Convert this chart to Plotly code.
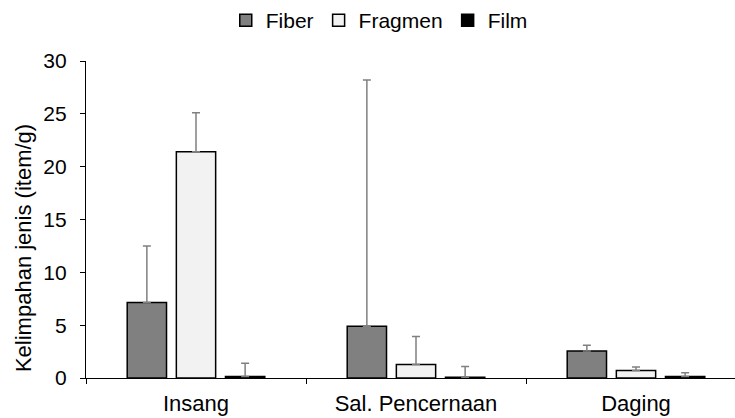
import plotly.graph_objects as go

categories = ["Insang", "Sal. Pencernaan", "Daging"]
series_names = ["Fiber", "Fragmen", "Film"]
fiber = [7.15, 4.9, 2.55]
fiber_err = [5.35, 23.3, 0.55]
fragmen = [21.4, 1.28, 0.72]
fragmen_err = [3.7, 2.65, 0.33]
film = [0.15, 0.06, 0.15]
film_err = [1.25, 1.04, 0.35]
tick_vals = [0, 5, 10, 15, 20, 25, 30]
y_title = "Kelimpahan jenis (item/g)"

fills = ["#808080", "#f2f2f2", "#000000"]
values = [fiber, fragmen, film]
errors = [fiber_err, fragmen_err, film_err]

fig = go.Figure()
for name, v, e, c in zip(series_names, values, errors, fills):
    fig.add_trace(go.Bar(
        x=categories, y=v, name=name,
        marker=dict(color=c, line=dict(color="#000000", width=1.5)),
        error_y=dict(type="data", array=e, symmetric=False, arrayminus=[0]*len(e),
                     color="#808080", thickness=1.5, width=4),
    ))

font = "Liberation Sans, Arial, sans-serif"
fig.update_layout(
    width=735, height=418,
    margin=dict(l=86, r=0, t=61, b=40, autoexpand=False),
    barmode="group", bargap=0.33, bargroupgap=0.2,
    plot_bgcolor="white", paper_bgcolor="white",
    font=dict(family=font, size=21, color="#000000"),
    legend=dict(orientation="h", xref="container", x=0.516, xanchor="center",
                yref="container", y=1.0, yanchor="top",
                font=dict(size=21), itemwidth=30, tracegroupgap=0, traceorder="normal"),
    showlegend=True,
    annotations=[dict(text=y_title, textangle=-90, xref="paper", yref="paper",
                      x=-0.097, y=0.41, xanchor="center", yanchor="middle",
                      showarrow=False, font=dict(size=22))],
)
fig.update_xaxes(
    range=[-0.5, 2.45], showline=True, linecolor="#000000", linewidth=1.2,
    ticks="outside", tickson="boundaries", ticklen=5, tickcolor="#000000",
    showgrid=False, tickfont=dict(size=22), automargin=False, ticklabelstandoff=5,
)
fig.update_yaxes(
    range=[0, 30], tickvals=tick_vals, showline=True, linecolor="#000000", linewidth=1.2,
    ticks="outside", ticklen=5, tickcolor="#000000", showgrid=False, zeroline=False,
    tickfont=dict(size=21), automargin=False, ticklabelstandoff=9,
)
fig.write_html("out.html", post_script="document.body.style.margin='0';",
               config={"displayModeBar": False})
